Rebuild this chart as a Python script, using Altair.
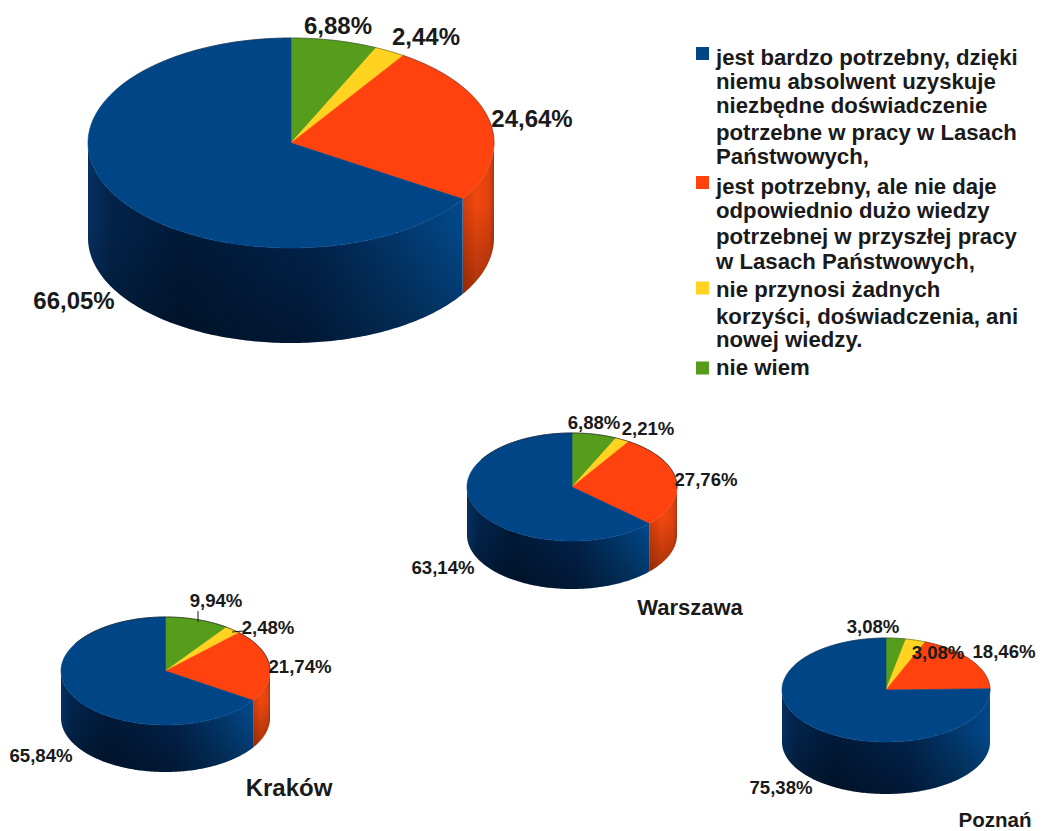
import math
import altair as alt
import pandas as pd

# Survey shares per city, listed clockwise from twelve o'clock.
CATEGORIES = ["nie wiem", "nie przynosi", "jest potrzebny", "jest bardzo potrzebny"]
ALL_CITIES = [6.88, 2.44, 24.64, 66.05]
WARSZAWA = [6.88, 2.21, 27.76, 63.14]
KRAKOW = [9.94, 2.48, 21.74, 65.84]
POZNAN = [3.08, 3.08, 18.46, 75.38]

TOP_COLORS = ["#579d1c", "#ffd320", "#ff420e", "#004586"]

LEGEND_ENTRIES = [
    ("#004586", ["jest bardzo potrzebny, dzięki", "niemu absolwent uzyskuje", "niezbędne doświadczenie",
                 "potrzebne w pracy w Lasach", "Państwowych,"]),
    ("#ff420e", ["jest potrzebny, ale nie daje", "odpowiednio dużo wiedzy",
                 "potrzebnej w przyszłej pracy", "w Lasach Państwowych,"]),
    ("#ffd320", ["nie przynosi żadnych", "korzyści, doświadczenia, ani", "nowej wiedzy."]),
    ("#579d1c", ["nie wiem"]),
]

# Layout: tilted-disc geometry and label anchors, all in page pixels.
PIES = [
    dict(values=ALL_CITIES, cx=291, cy=143, rx=203, ry=105, depth=95, rim=0.6,
         anchors=[(338, 27), (426, 38), (532, 120), (74, 302)], font=24),
    dict(values=WARSZAWA, cx=572, cy=487, rx=105, ry=54, depth=48, rim=1.0,
         anchors=[(594, 423), (648, 429), (706, 480), (443, 568)], font=18.6),
    dict(values=KRAKOW, cx=165.5, cy=671, rx=104.5, ry=54, depth=47, rim=1.0,
         anchors=[(216, 601), (268, 628), (300, 667), (41, 756)], font=18.6),
    dict(values=POZNAN, cx=886, cy=690, rx=104, ry=52, depth=52, rim=0.6,
         anchors=[(873, 627), (938, 653), (1004, 652), (781, 788)], font=18.6),
]
CITY_NAMES = [("Warszawa", 690, 608, 22), ("Kraków", 289, 789, 24), ("Poznań", 995, 821, 20.6)]
LEADERS = [(198, 611, 198, 622), (232, 632, 243, 631)]
LEGEND_LINE_Y = [58, 82, 106, 133, 157, 187, 211, 237, 262, 290, 317, 340, 368]
LEGEND_SWATCH_Y = [53.5, 182.5, 288, 368]

BLUE_WALL = [(0, "#07305f"), (0.06, "#03234a"), (0.25, "#001a38"), (0.6, "#02234c"),
             (0.85, "#023a70"), (1, "#03488a")]
ORANGE_WALL = [(0, "#cf3c0a"), (0.45, "#f0480f"), (0.85, "#e2420e"), (1, "#a83a16")]
WALL_SHADE = [(0, "rgba(0,0,0,0)"), (0.4, "rgba(0,0,0,0)"), (1, "rgba(0,0,0,0.3)")]


def ellipse(p, deg):
    t = math.radians(deg)
    return p["cx"] + p["rx"] * math.sin(t), p["cy"] - p["ry"] * math.cos(t)


def sweep(start, end, step=1.0):
    n = max(2, int(abs(end - start) / step) + 1)
    return [start + (end - start) * i / (n - 1) for i in range(n)]


def wedge_rows():
    rows = []
    for pie_id, p in enumerate(PIES):
        start = 0.0
        for k, v in enumerate(p["values"]):
            end = start + v * 3.6
            if k == len(p["values"]) - 1:
                end = 360.0
            pts = [(p["cx"], p["cy"])] + [ellipse(p, a) for a in sweep(start, end)] + [(p["cx"], p["cy"])]
            for i, (x, y) in enumerate(pts):
                rows.append(dict(x=x, y=y, i=i, wedge=f"{pie_id}-{k}", color=TOP_COLORS[k]))
            start = end
    return pd.DataFrame(rows)


def wall_rows(p, lo, hi):
    rows = []
    for a in sweep(lo, hi):
        x, y = ellipse(p, a)
        rows.append(dict(x=x, y=y, y2=y + p["depth"]))
    return pd.DataFrame(rows)


def gradient_area(df, stops, vertical=False):
    fill = alt.LinearGradient(gradient="linear", x1=0, y1=0,
                              x2=0 if vertical else 1, y2=1 if vertical else 0,
                              stops=[alt.GradientStop(offset=o, color=c) for o, c in stops])
    return alt.Chart(df).mark_area(fill=fill).encode(
        x=alt.X("x:Q", scale=None, axis=None),
        y=alt.Y("y:Q", scale=None, axis=None),
        y2="y2:Q",
    )


layers = []

# Side walls: only the front half of each disc is visible.
for p in PIES:
    boundary = sum(p["values"][:3]) * 3.6
    if boundary > 90:
        orange = wall_rows(p, 90, boundary)
        layers.append(gradient_area(orange, ORANGE_WALL))
        layers.append(gradient_area(orange, WALL_SHADE, vertical=True))
    blue = wall_rows(p, max(boundary, 90), 270)
    layers.append(gradient_area(blue, BLUE_WALL))
    layers.append(gradient_area(blue, WALL_SHADE, vertical=True))

# Flat tops of the discs.
layers.append(
    alt.Chart(wedge_rows()).mark_line(strokeWidth=0.6, interpolate="linear").encode(
        x=alt.X("x:Q", scale=None, axis=None),
        y=alt.Y("y:Q", scale=None, axis=None),
        fill=alt.Fill("color:N", scale=None),
        stroke=alt.Stroke("color:N", scale=None),
        detail="wedge:N",
        order=alt.Order("i:Q"),
    )
)

# Thin dark rim along the back edge.
for p in PIES:
    rim = pd.DataFrame([dict(x=x, y=y, i=i) for i, (x, y) in
                        enumerate(ellipse(p, a) for a in sweep(-60, 92))])
    layers.append(
        alt.Chart(rim).mark_line(color="#20242c", strokeWidth=p["rim"], opacity=0.7).encode(
            x=alt.X("x:Q", scale=None, axis=None),
            y=alt.Y("y:Q", scale=None, axis=None),
            order=alt.Order("i:Q"),
        )
    )

# Leader lines for the crowded Kraków labels.
leaders = pd.DataFrame(LEADERS, columns=["x", "y", "x2", "y2"])
layers.append(
    alt.Chart(leaders).mark_rule(color="#1a1a1a", strokeWidth=1).encode(
        x=alt.X("x:Q", scale=None, axis=None),
        y=alt.Y("y:Q", scale=None, axis=None),
        x2="x2:Q",
        y2="y2:Q",
    )
)

# Percentage labels, formatted with a decimal comma, and the city captions.
label_rows = []
for p in PIES:
    for v, (x, y) in zip(p["values"], p["anchors"]):
        label_rows.append(dict(x=x, y=y, text=f"{v:.2f}%".replace(".", ","), font=p["font"]))
for name, x, y, font in CITY_NAMES:
    label_rows.append(dict(x=x, y=y, text=name, font=font))
layers.append(
    alt.Chart(pd.DataFrame(label_rows)).mark_text(
        font="Liberation Sans", fontWeight="bold", color="#1a1a1a", align="center", baseline="middle"
    ).encode(
        x=alt.X("x:Q", scale=None, axis=None),
        y=alt.Y("y:Q", scale=None, axis=None),
        text="text:N",
        size=alt.Size("font:Q", scale=None),
    )
)

# Legend: coloured squares plus wrapped text lines.
swatches = pd.DataFrame([dict(x=702.5, y=y, color=c) for y, (c, _) in zip(LEGEND_SWATCH_Y, LEGEND_ENTRIES)])
layers.append(
    alt.Chart(swatches).mark_square(size=169, opacity=1).encode(
        x=alt.X("x:Q", scale=None, axis=None),
        y=alt.Y("y:Q", scale=None, axis=None),
        fill=alt.Fill("color:N", scale=None),
    )
)
lines = [line for _, group in LEGEND_ENTRIES for line in group]
legend_text = pd.DataFrame(dict(text=lines, y=LEGEND_LINE_Y, x=[716] * len(lines)))
layers.append(
    alt.Chart(legend_text).mark_text(
        font="Liberation Sans", fontWeight="bold", fontSize=22.2, color="#1a1a1a", align="left", baseline="middle"
    ).encode(
        x=alt.X("x:Q", scale=None, axis=None),
        y=alt.Y("y:Q", scale=None, axis=None),
        text="text:N",
    )
)

chart = alt.layer(*layers).properties(
    width=1047, height=831, padding=0, autosize=alt.AutoSizeParams(type="none"), background="white"
).configure_view(stroke=None)

chart.save("out.html", embed_options={"renderer": "svg", "actions": False})
